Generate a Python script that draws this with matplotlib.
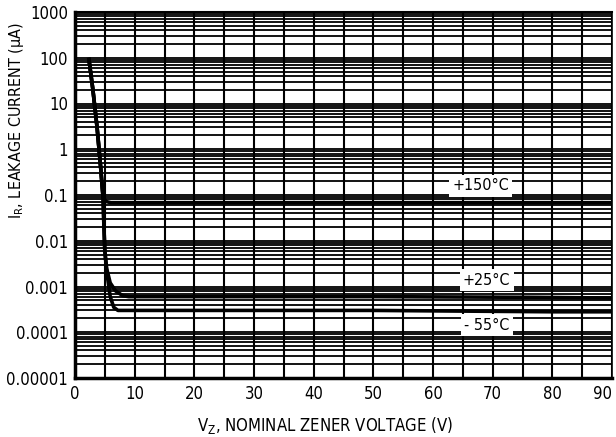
import matplotlib
matplotlib.use("Agg")
import matplotlib.pyplot as plt
import numpy as np

# Data
v_150 = [2.3, 3.0, 3.7, 4.3, 4.7, 5.2, 6.0, 10, 30, 60, 90]
i_150 = [100, 20, 3, 0.4, 0.09, 0.072, 0.068, 0.068, 0.068, 0.068, 0.068]

v_25 = [2.3, 3.0, 3.7, 4.3, 4.7, 4.85, 5.0, 5.3, 5.9, 6.8, 8.0, 9.0, 20, 50, 77, 90]
i_25 = [100, 20, 3, 0.4, 0.09, 0.02, 0.006, 0.0025, 0.0012, 0.0008, 0.00063, 0.0006,
        0.0006, 0.0006, 0.00058, 0.00056]

v_m55 = [2.3, 3.0, 3.7, 4.3, 4.7, 4.85, 5.0, 5.3, 5.9, 6.5, 7.2, 20, 50, 80, 90]
i_m55 = [100, 20, 3, 0.4, 0.09, 0.02, 0.006, 0.0022, 0.0006, 0.00035, 0.0003,
         0.0003, 0.0003, 0.00028, 0.00028]

labels = ["+150°C", "+25°C", "- 55°C"]
label_v = [68.0, 69.0, 69.0]
label_i = [0.158, 0.00138, 0.000144]

yticks = [1e-5, 1e-4, 1e-3, 1e-2, 1e-1, 1, 10, 100, 1000]
yticklabels = ["0.00001", "0.0001", "0.001", "0.01", "0.1", "1", "10", "100", "1000"]
xticks = list(range(0, 91, 10))

plt.rcParams['font.family'] = ["DejaVu Sans"]
plt.rcParams['font.stretch'] = 'condensed'

fig = plt.figure(figsize=(6.16, 4.37), dpi=100)
ax = fig.add_axes([75/616, 1 - 378/437, (612-75)/616, (378-12)/437])
ax.set_yscale('log')
ax.set_xlim(0, 90)
ax.set_ylim(1e-5, 1e3)

# grid
minor_y = []
for d in range(-5, 3):
    for m in range(1, 10):
        minor_y.append(m * 10.0**d)
minor_y.append(1000)
for y in minor_y:
    ax.axhline(y, color='black', lw=1.3, zorder=1)
for x in range(0, 91, 5):
    ax.axvline(x, color='black', lw=1.5, zorder=1)

ax.plot(v_150, i_150, color='black', lw=2.6, zorder=3, solid_capstyle='butt')
ax.plot(v_25, i_25, color='black', lw=2.6, zorder=3, solid_capstyle='butt')
ax.plot(v_m55, i_m55, color='black', lw=2.6, zorder=3, solid_capstyle='butt')

for t, xv, yv in zip(labels, label_v, label_i):
    ax.text(xv, yv, t, ha='center', va='center', fontsize=11.5, zorder=5,
            bbox=dict(boxstyle='square,pad=0.2', facecolor='white', edgecolor='none'))

ax.set_yticks(yticks)
ax.set_yticklabels(yticklabels)
ax.yaxis.set_minor_locator(matplotlib.ticker.NullLocator())
ax.set_xticks(xticks)
ax.tick_params(axis='both', length=0, labelsize=12, pad=5)
ax.get_xticklabels()[-1].set_horizontalalignment('right')
for s in ax.spines.values():
    s.set_linewidth(2.5)
ax.spines['right'].set_linewidth(1.2)
ax.spines['top'].set_linewidth(1.5)

fig.text(325/616, 1 - 425/437, "V$_\\mathregular{Z}$, NOMINAL ZENER VOLTAGE (V)",
         fontsize=12, ha='center', va='center')
fig.text(17/616, 1 - 121/437, "I$_\\mathregular{R}$, LEAKAGE CURRENT (μA)",
         fontsize=11.5, ha='center', va='center', rotation=90)

fig.savefig("out.png", dpi=100)
